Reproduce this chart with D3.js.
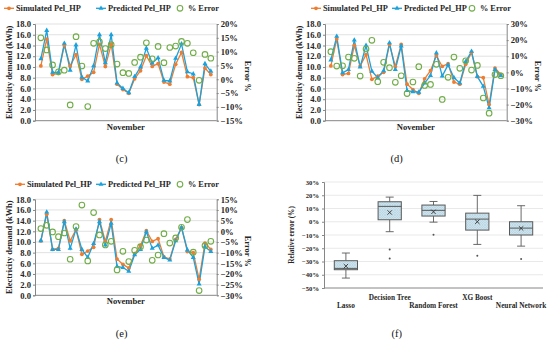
<!DOCTYPE html>
<html>
<head>
<meta charset="utf-8">
<script src="https://cdn.jsdelivr.net/npm/d3@7"></script>
<style>
  body { margin: 0; background: #fff; }
  svg { display: block; }
  text { font-family: "Liberation Serif", "Times New Roman", serif; }
</style>
</head>
<body>
<svg id="fig" width="550" height="342"></svg>
<script>
// ---- data ----
const days = [1, 2, 3, 4, 5, 6, 7, 8, 9, 10, 11, 12, 13, 14, 15, 16, 17, 18, 19, 20, 21, 22, 23, 24, 25, 26, 27, 28, 29, 30];

const simulated = [10.2, 15.2, 8.6, 8.8, 14.0, 10.2, 12.3, 7.7, 8.3, 9.0, 14.2, 10.1, 14.2, 6.8, 5.8, 5.1, 7.8, 9.3, 12.1, 10.1, 10.6, 7.2, 6.8, 10.5, 12.7, 8.2, 8.0, 3.0, 9.8, 8.6];

const predictedC = [11.5, 16.8, 9.0, 9.0, 14.4, 9.4, 14.1, 8.1, 7.4, 10.2, 16.0, 10.8, 16.0, 7.0, 6.0, 5.2, 8.2, 10.0, 13.5, 10.7, 11.7, 7.5, 7.4, 11.6, 14.3, 9.1, 8.7, 3.0, 10.6, 9.2];
const errorC = [15.0, 10.6, 5.2, 2.7, 3.3, -9.3, 15.4, 4.8, -9.9, 13.0, 13.5, 11.1, 12.5, 5.5, 2.4, 2.1, 6.1, 8.0, 13.2, 7.4, 11.9, 6.0, 11.5, 12.0, 13.7, 13.0, 9.6, -0.4, 9.0, 7.6];

const predictedD = [11.3, 15.7, 8.9, 9.5, 15.0, 10.0, 14.0, 9.2, 8.0, 9.3, 14.5, 9.5, 13.9, 5.6, 5.4, 5.3, 7.0, 8.4, 12.6, 8.3, 10.4, 8.0, 7.0, 11.0, 12.9, 8.2, 6.4, 2.4, 9.5, 8.4];
const errorD = [12.8, 3.9, 4.1, 9.5, 8.7, -2.3, 14.5, 19.9, -5.8, 6.2, 2.9, -6.2, -2.1, -13.2, -6.0, 3.5, -8.1, -7.5, 5.0, -16.8, -3.1, 9.5, 2.5, 7.2, 1.4, 4.3, -15.9, -25.3, -1.4, -2.1];

const predictedE = [10.2, 15.6, 8.6, 8.6, 13.8, 8.8, 12.4, 8.6, 7.1, 9.7, 13.8, 9.4, 13.5, 5.4, 5.2, 4.5, 7.6, 8.6, 11.9, 8.8, 9.4, 7.1, 6.6, 10.2, 12.7, 8.5, 7.1, 2.1, 9.1, 8.2];
const errorE = [1.3, 2.8, -0.3, -2.5, -0.8, -13.1, 2.2, 12.3, -13.9, 8.8, -1.7, -6.4, -4.7, -18.1, -9.4, -14.2, -8.9, -7.2, -4.1, -13.6, -11.1, -1.1, -5.5, -3.1, 1.9, 5.5, -9.8, -27.8, -6.7, -4.7];

const demandTicks = [0, 2, 4, 6, 8, 10, 12, 14, 16, 18];
const errTicksC = [-15, -10, -5, 0, 5, 10, 15, 20];
const errTicksD = [-30, -20, -10, 0, 10, 20, 30];
const errTicksE = [-30, -25, -20, -15, -10, -5, 0, 5, 10, 15];

// box plot (f)
const models = ["Lasso", "Decision Tree", "Random Forest", "XG Boost", "Neural Network"];
const whiskerLow = [-42.5, -7.5, -0.3, -17.1, -18.4];
const q1 = [-36.2, 1.5, 4.3, -6.3, -10.0];
const medians = [-35.2, 11.6, 8.6, 2.0, -4.8];
const q3 = [-29.4, 15.1, 12.6, 6.5, 0.0];
const whiskerHigh = [-23.6, 18.6, 15.3, 19.9, 12.1];
const means = [-33.5, 7.0, 7.5, 0.0, -5.0];
const outliers = [[], [-20.9, -27.7], [-9.8], [-25.7], [-28.2]];
const relTicks = [-50, -40, -30, -20, -10, 0, 10, 20, 30];

// ---- drawing ----
const svg = d3.select("#fig");
const orange = "#ed7d31", blue = "#1ba1dc", green = "#70ad47", axisGrey = "#868686", ink = "#262626";
const pct = d => (d < 0 ? "\u2212" + Math.abs(d) : d) + "%";

function styleAxis(a, size) {
  a.select(".domain").attr("stroke", axisGrey);
  a.selectAll(".tick line").attr("stroke", axisGrey);
  a.selectAll(".tick text").attr("font-size", size).attr("font-weight", "bold").attr("fill", ink)
    .style("font-family", '"Liberation Serif", serif');
}

function linePanel(p) {
  const g = svg.append("g");
  const x = d3.scalePoint().domain(days).range([p.left, p.right]).padding(1);
  const y = d3.scaleLinear().domain([0, 18]).range([p.bottom, p.top]);
  const yr = d3.scaleLinear().domain(d3.extent(p.errTicks)).range([p.bottom, p.top]);

  g.append("g").selectAll("line").data(demandTicks.slice(1)).join("line")
    .attr("x1", p.left).attr("x2", p.right)
    .attr("y1", d => y(d)).attr("y2", d => y(d))
    .attr("stroke", "#d9d9d9").attr("stroke-width", 0.8);

  const la = g.append("g").attr("transform", `translate(${p.left},0)`)
    .call(d3.axisLeft(y).tickValues(demandTicks).tickFormat(d3.format(".1f")).tickSize(2).tickPadding(2));
  styleAxis(la, 8.6);
  const ra = g.append("g").attr("transform", `translate(${p.right},0)`)
    .call(d3.axisRight(yr).tickValues(p.errTicks).tickFormat(pct).tickSize(2).tickPadding(2));
  styleAxis(ra, 8.6);
  g.append("line").attr("x1", p.left).attr("x2", p.right)
    .attr("y1", p.bottom).attr("y2", p.bottom).attr("stroke", axisGrey);

  const line = d3.line().x((d, i) => x(days[i])).y(d => y(d));
  g.append("path").datum(simulated).attr("d", line)
    .attr("fill", "none").attr("stroke", orange).attr("stroke-width", 1.3);
  g.append("path").datum(p.predicted).attr("d", line)
    .attr("fill", "none").attr("stroke", blue).attr("stroke-width", 1.3);

  g.append("g").selectAll("circle").data(simulated).join("circle")
    .attr("cx", (d, i) => x(days[i])).attr("cy", d => y(d)).attr("r", 1.9).attr("fill", orange);
  const tri = d3.symbol(d3.symbolTriangle, 11);
  g.append("g").selectAll("path").data(p.predicted).join("path")
    .attr("d", tri).attr("transform", (d, i) => `translate(${x(days[i])},${y(d)})`).attr("fill", blue);
  g.append("g").selectAll("circle").data(p.error).join("circle")
    .attr("cx", (d, i) => x(days[i])).attr("cy", d => yr(d)).attr("r", 2.8)
    .attr("fill", "none").attr("stroke", green).attr("stroke-width", 1.1);

  // legend
  const lg = g.append("g").attr("font-size", 8.3).attr("font-weight", "bold").attr("fill", ink);
  const ly = p.legendY;
  lg.append("line").attr("x1", p.leg[0]).attr("x2", p.leg[0] + 10).attr("y1", ly).attr("y2", ly)
    .attr("stroke", orange).attr("stroke-width", 1.3);
  lg.append("circle").attr("cx", p.leg[0] + 5).attr("cy", ly).attr("r", 1.9).attr("fill", orange);
  lg.append("text").attr("x", p.leg[0] + 12).attr("y", ly + 3).text("Simulated Pel_HP");
  lg.append("line").attr("x1", p.leg[1]).attr("x2", p.leg[1] + 10).attr("y1", ly).attr("y2", ly)
    .attr("stroke", blue).attr("stroke-width", 1.3);
  lg.append("path").attr("d", tri).attr("transform", `translate(${p.leg[1] + 5},${ly})`).attr("fill", blue);
  lg.append("text").attr("x", p.leg[1] + 12).attr("y", ly + 3).text("Predicted Pel_HP");
  lg.append("circle").attr("cx", p.leg[2]).attr("cy", ly).attr("r", 2.8)
    .attr("fill", "none").attr("stroke", green).attr("stroke-width", 1.1);
  lg.append("text").attr("x", p.leg[2] + 8).attr("y", ly + 3).text("% Error");

  // titles
  const mid = (p.top + p.bottom) / 2;
  g.append("text").attr("transform", `translate(${p.left - 26},${mid}) rotate(-90)`)
    .attr("text-anchor", "middle").attr("dominant-baseline", "central")
    .attr("font-size", 8.4).attr("font-weight", "bold").attr("fill", ink).text("Electricity demand (kWh)");
  g.append("text").attr("transform", `translate(${p.right + 31},${mid + 4}) rotate(90)`)
    .attr("text-anchor", "middle").attr("dominant-baseline", "central")
    .attr("font-size", 8.4).attr("font-weight", "bold").attr("fill", ink).text("Error %");
  g.append("text").attr("x", (p.left + p.right) / 2).attr("y", p.bottom + 9)
    .attr("text-anchor", "middle").attr("font-size", 8.6).attr("font-weight", "bold").attr("fill", ink)
    .text("November");
}

linePanel({ left: 35, right: 216.7, top: 24, bottom: 120.7, predicted: predictedC, error: errorC,
  errTicks: errTicksC, legendY: 8.3, leg: [4, 96, 180] });
linePanel({ left: 325, right: 506.7, top: 24, bottom: 120.7, predicted: predictedD, error: errorD,
  errTicks: errTicksD, legendY: 8.3, leg: [311, 392, 472] });
linePanel({ left: 35, right: 216.7, top: 199.3, bottom: 295.3, predicted: predictedE, error: errorE,
  errTicks: errTicksE, legendY: 184.3, leg: [15, 96, 180] });

// ---- box plot (f) ----
const defs = svg.append("defs");
const pat = defs.append("pattern").attr("id", "hatch").attr("width", 2.5).attr("height", 2.5)
  .attr("patternUnits", "userSpaceOnUse");
pat.append("rect").attr("width", 2.5).attr("height", 2.5).attr("fill", "#d5e9f1");
pat.append("path").attr("d", "M0,0L2.5,2.5M2.5,0L0,2.5").attr("stroke", "#9cc2d3").attr("stroke-width", 0.4);

const fb = { left: 324, right: 543, top: 182, bottom: 288 };
const bx = d3.scaleBand().domain(models).range([fb.left, fb.right]);
const by = d3.scaleLinear().domain([-50, 30]).range([fb.bottom, fb.top]);
const fg = svg.append("g");

fg.append("g").selectAll("line").data(relTicks.slice(1)).join("line")
  .attr("x1", fb.left).attr("x2", fb.right).attr("y1", d => by(d)).attr("y2", d => by(d))
  .attr("stroke", "#e3e3e3").attr("stroke-width", 0.8);
const fa = fg.append("g").attr("transform", `translate(${fb.left},0)`)
  .call(d3.axisLeft(by).tickValues(relTicks).tickFormat(pct).tickSize(2).tickPadding(3));
styleAxis(fa, 6.6);
fg.append("line").attr("x1", fb.left).attr("x2", fb.right).attr("y1", fb.bottom).attr("y2", fb.bottom)
  .attr("stroke", axisGrey);

const boxW = bx.bandwidth() * 0.53, capW = 8, boxInk = "#595959";
models.forEach((m, i) => {
  const cx = bx(m) + bx.bandwidth() / 2;
  const b = fg.append("g");
  b.append("line").attr("x1", cx).attr("x2", cx).attr("y1", by(whiskerLow[i])).attr("y2", by(q1[i]))
    .attr("stroke", boxInk).attr("stroke-width", 0.9);
  b.append("line").attr("x1", cx).attr("x2", cx).attr("y1", by(q3[i])).attr("y2", by(whiskerHigh[i]))
    .attr("stroke", boxInk).attr("stroke-width", 0.9);
  [whiskerLow[i], whiskerHigh[i]].forEach(v => {
    b.append("line").attr("x1", cx - capW / 2).attr("x2", cx + capW / 2).attr("y1", by(v)).attr("y2", by(v))
      .attr("stroke", boxInk).attr("stroke-width", 0.9);
  });
  b.append("rect").attr("x", cx - boxW / 2).attr("width", boxW)
    .attr("y", by(q3[i])).attr("height", by(q1[i]) - by(q3[i]))
    .attr("fill", "url(#hatch)").attr("stroke", boxInk).attr("stroke-width", 1);
  b.append("line").attr("x1", cx - boxW / 2).attr("x2", cx + boxW / 2)
    .attr("y1", by(medians[i])).attr("y2", by(medians[i])).attr("stroke", boxInk).attr("stroke-width", 1);
  const my = by(means[i]), s = 2.2;
  b.append("path").attr("d", `M${cx - s},${my - s}L${cx + s},${my + s}M${cx + s},${my - s}L${cx - s},${my + s}`)
    .attr("stroke", "#333").attr("stroke-width", 0.9);
  outliers[i].forEach(v => {
    b.append("circle").attr("cx", cx).attr("cy", by(v)).attr("r", 1).attr("fill", "#555");
  });
  fg.append("text").attr("x", cx).attr("y", i % 2 === 1 ? 300 : 307.5)
    .attr("text-anchor", "middle").attr("font-size", 7.3).attr("font-weight", "bold").attr("fill", ink).text(m);
});
fg.append("text").attr("transform", `translate(291.7,${(fb.top + fb.bottom) / 2}) rotate(-90)`)
  .attr("text-anchor", "middle").attr("dominant-baseline", "central")
  .attr("font-size", 7.3).attr("font-weight", "bold").attr("fill", ink).text("Relative error (%)");

// captions
[["(c)", 121.7, 161.8], ["(d)", 396.7, 161.8], ["(e)", 121.7, 336.8], ["(f)", 396.7, 336.8]].forEach(c => {
  svg.append("text").attr("x", c[1]).attr("y", c[2]).attr("text-anchor", "middle")
    .attr("font-size", 10.5).attr("fill", "#111").text(c[0]);
});
</script>
</body>
</html>
